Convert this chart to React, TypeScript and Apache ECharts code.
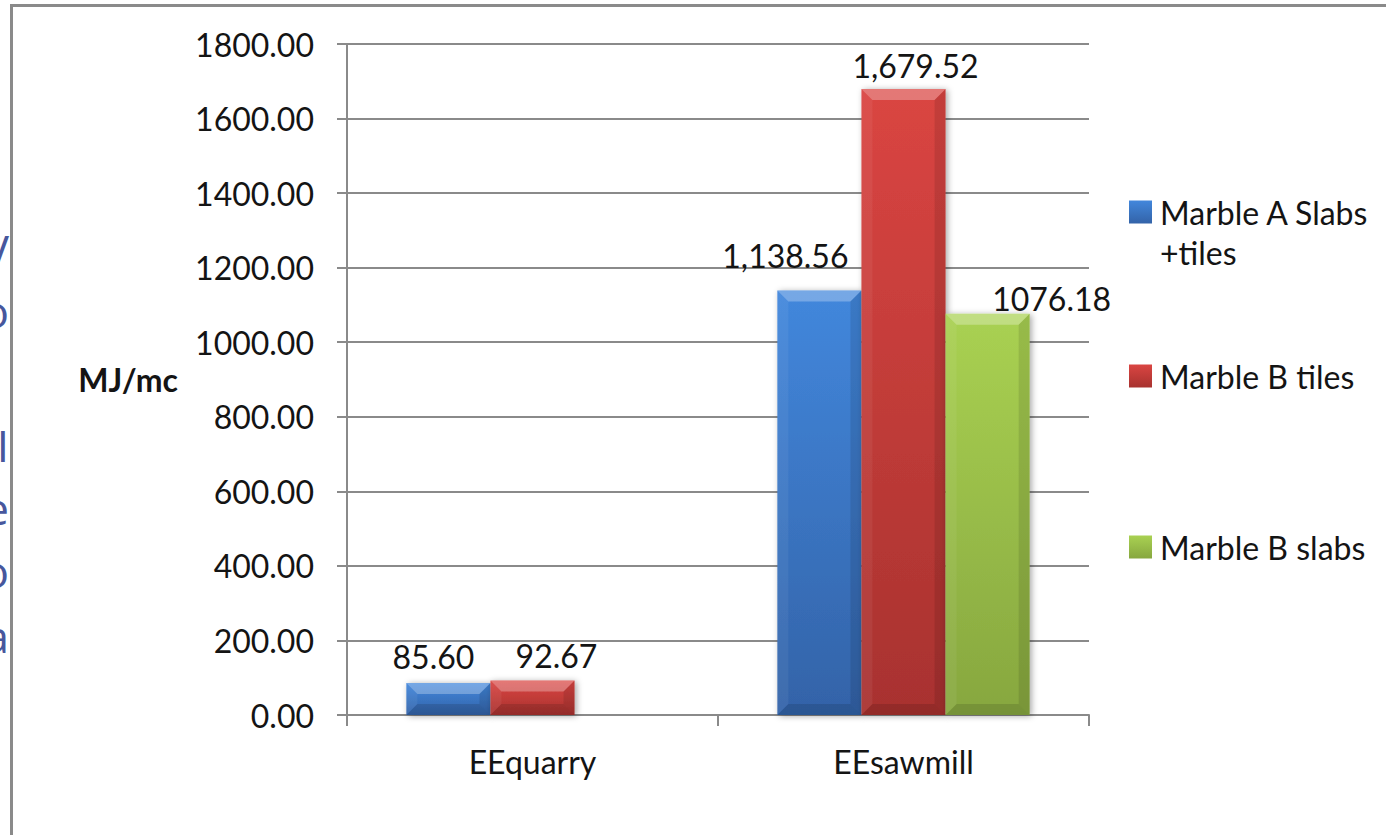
import React, { useEffect, useRef } from "react";
import * as echarts from "echarts";

// Embodied energy per cubic metre, by production stage and product
const categories = ["EEquarry", "EEsawmill"];
const seriesNames = ["Marble A Slabs +tiles", "Marble B tiles", "Marble B slabs"];
const marbleASlabsTiles = [85.6, 1138.56];
const marbleBTiles = [92.67, 1679.52];
const marbleBSlabs: (number | null)[] = [null, 1076.18];
const seriesValues = [marbleASlabsTiles, marbleBTiles, marbleBSlabs];
// thousands separator used by each series' value labels
const useGrouping = [true, true, false];

const FONT = "Lato, 'Open Sans', sans-serif";
const TEXT = "#141414";
const GRAY = "#8a8a8a";
const TOP_COLORS = ["#4287dc", "#da4542", "#a9d152"];
const BOTTOM_COLORS = ["#3363a8", "#a8322f", "#87a73f"];
const CATEGORY_GAP = 0.32;

// hand-placed nudges of the value labels [dx, dy], per series and category
const LABEL_NUDGE: [number, number][][] = [
  [[-15, -6], [-34, -14]],
  [[24, -4], [12, -2]],
  [[0, 0], [64, 6]],
];

// slide text peeking out at the left of the chart frame
const sideGlyphs = [
  { t: "V", y: 250 },
  { t: "o", y: 311 },
  { t: "I", y: 445 },
  { t: "e", y: 508 },
  { t: "o", y: 571 },
  { t: "a", y: 636 },
];

const fmt = (v: number, grouping: boolean) =>
  v.toLocaleString("en-US", {
    minimumFractionDigits: 2,
    maximumFractionDigits: 2,
    useGrouping: grouping,
  });

export default function App() {
  const ref = useRef<HTMLDivElement>(null);

  useEffect(() => {
    if (!ref.current) return;
    const chart = echarts.init(ref.current, undefined, { renderer: "svg" });

    const barSeries = seriesNames.map((name, i) => ({
      type: "bar",
      name,
      z: 4,
      barGap: "0%",
      barCategoryGap: `${CATEGORY_GAP * 100}%`,
      data: seriesValues[i].map((v, j) =>
        v == null ? null : { value: v, label: { offset: LABEL_NUDGE[i][j] } }
      ),
      itemStyle: {
        color: new echarts.graphic.LinearGradient(0, 0, 0, 1, [
          { offset: 0, color: TOP_COLORS[i] },
          { offset: 1, color: BOTTOM_COLORS[i] },
        ]),
        shadowBlur: 6,
        shadowColor: "rgba(0,0,0,0.35)",
        shadowOffsetX: 2,
        shadowOffsetY: 1,
      },
      label: {
        show: true,
        position: "top",
        distance: 5,
        fontSize: 32,
        fontFamily: FONT,
        color: TEXT,
        formatter: (p: any) => fmt(p.value, useGrouping[i]),
      },
    }));

    // bevel facets laid over every bar: [category, value, series]
    const bevelData: number[][] = [];
    seriesValues.forEach((vals, s) =>
      vals.forEach((v, c) => {
        if (v != null) bevelData.push([c, v, s]);
      })
    );

    const bevelSeries = {
      type: "custom",
      silent: true,
      z: 5,
      encode: { x: 0, y: 1 },
      data: bevelData,
      renderItem: (_params: any, api: any) => {
        const c = api.value(0);
        const v = api.value(1);
        const s = api.value(2);
        const base = api.coord([c, 0]);
        const top = api.coord([c, v]);
        const band = api.size([1, 0])[0];
        const groupW = band * (1 - CATEGORY_GAP);
        const w = groupW / seriesNames.length;
        const x0 = base[0] - groupW / 2 + s * w;
        const x1 = x0 + w;
        const y0 = top[1];
        const yb = base[1];
        const b = Math.min(11, (yb - y0) / 2);
        const poly = (points: number[][], fill: string) => ({
          type: "polygon",
          shape: { points },
          style: { fill },
        });
        return {
          type: "group",
          children: [
            poly([[x0, y0], [x1, y0], [x1 - b, y0 + b], [x0 + b, y0 + b]], "rgba(255,255,255,0.28)"),
            poly([[x0, y0], [x0 + b, y0 + b], [x0 + b, yb - b], [x0, yb]], "rgba(255,255,255,0.06)"),
            poly([[x1, y0], [x1, yb], [x1 - b, yb - b], [x1 - b, y0 + b]], "rgba(0,0,0,0.10)"),
            poly([[x0, yb], [x0 + b, yb - b], [x1 - b, yb - b], [x1, yb]], "rgba(0,0,0,0.12)"),
          ],
        };
      },
    };

    // the first entry wraps onto two lines; an empty leading line keeps
    // its first line level with the swatch
    const legendTops = [152, 356, 527];
    const legends = seriesNames.map((name, i) => ({
      data: [name],
      left: 1129,
      top: legendTops[i],
      orient: "vertical",
      padding: 0,
      itemWidth: 23,
      itemHeight: 23,
      icon: "rect",
      itemStyle: { shadowBlur: 0, shadowOffsetX: 0, shadowOffsetY: 0 },
      selectedMode: false,
      formatter: (n: string) => (n.includes(" +") ? "\n" + n.replace(" +", "\n+") : n),
      textStyle: {
        fontSize: 32,
        fontFamily: FONT,
        color: TEXT,
        lineHeight: 40,
        padding: [0, 0, 0, 3],
      },
    }));

    chart.setOption({
      animation: false,
      backgroundColor: "#ffffff",
      textStyle: { fontFamily: FONT },
      grid: { left: 347, right: 297, top: 44, bottom: 120, containLabel: false, outerBoundsMode: "none" },
      legend: legends,
      xAxis: {
        type: "category",
        data: categories,
        z: 3,
        axisLine: { show: true, lineStyle: { color: GRAY, width: 2 } },
        axisTick: { show: true, alignWithLabel: false, length: 11, lineStyle: { color: GRAY, width: 2 } },
        axisLabel: { interval: 0, margin: 30, fontSize: 32, fontFamily: FONT, color: TEXT },
        splitLine: { show: false },
      },
      yAxis: {
        type: "value",
        min: 0,
        max: 1800,
        interval: 200,
        z: 3,
        name: "MJ/mc",
        nameLocation: "middle",
        nameRotate: 0,
        nameGap: 169,
        nameTextStyle: { fontWeight: "bold", fontSize: 32, fontFamily: FONT, color: TEXT },
        axisLine: { show: true, lineStyle: { color: GRAY, width: 2 } },
        axisTick: { show: true, length: 10, lineStyle: { color: GRAY, width: 2 } },
        splitLine: { show: true, lineStyle: { color: GRAY, width: 2 } },
        axisLabel: {
          margin: 33,
          fontSize: 32,
          fontFamily: FONT,
          color: TEXT,
          formatter: (v: number) => v.toFixed(2),
        },
      },
      graphic: {
        elements: [
          ...sideGlyphs.map((g) => ({
            type: "text",
            x: 9,
            y: g.y,
            z: 0,
            silent: true,
            style: {
              text: g.t,
              fontSize: 44,
              lineHeight: 44,
              fontFamily: "'Open Sans', sans-serif",
              fill: "#47579d",
              align: "right",
              verticalAlign: "middle",
            },
          })),
          {
            type: "rect",
            z: 1,
            silent: true,
            shape: { x: 11.5, y: 5.5, width: 1400, height: 900 },
            style: { fill: "#ffffff", stroke: GRAY, lineWidth: 3 },
          },
        ],
      },
      series: [...barSeries, bevelSeries],
    });

    return () => chart.dispose();
  }, []);

  return (
    <div
      ref={ref}
      style={{ position: "absolute", left: 0, top: 0, width: 1386, height: 835 }}
    />
  );
}
